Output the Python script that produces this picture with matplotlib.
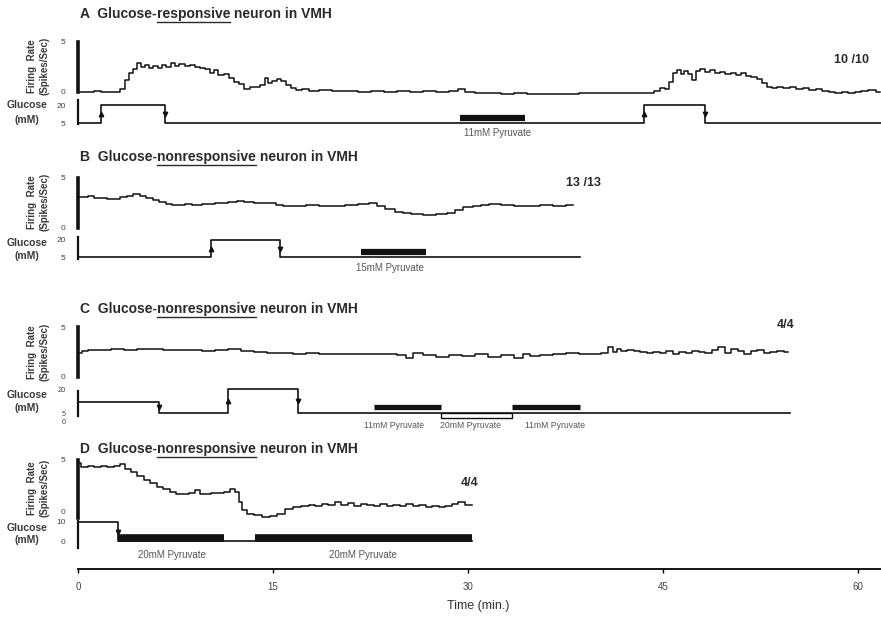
"""Firing rate of VMH neurons vs glucose / pyruvate, four stacked recordings (A-D)."""
import matplotlib
matplotlib.use("Agg")
import matplotlib.pyplot as plt
from matplotlib.lines import Line2D

plt.rcParams.update({
    "font.family": ["Liberation Sans", "DejaVu Sans"],
    "font.size": 7,
    "text.color": "#222222",
})

# ---------------- data (minutes / spikes per sec / mM) ----------------
# A: glucose-responsive neuron
a_t = [0, 0.3, 1, 1.5, 2, 2.5, 3.0, 3.5, 3.8, 4.1, 4.4, 4.7, 5.0, 5.3, 5.6, 6.0, 6.3, 6.6, 7.0,
       7.3, 7.6, 8.0, 8.4, 8.8, 9.2, 9.6, 10.0, 10.3, 10.6, 11.0, 11.4, 11.8, 12.2, 12.6, 13.0,
       13.4, 13.8, 14.2, 14.5, 14.8, 15.1, 15.5, 15.8, 16.2, 16.6, 17.0, 17.5, 18, 19, 20, 21,
       22, 23, 24, 25, 26, 27, 28, 29, 29.5, 30, 31, 32, 33, 34, 35, 36, 37, 38, 39, 40, 41,
       42, 43, 44, 44.6, 45.0, 45.3, 45.6, 45.9, 46.2, 46.5, 46.8, 47.1, 47.4, 47.7, 48.0,
       48.4, 48.8, 49.2, 49.6, 50.0, 50.4, 50.8, 51.2, 51.6, 52.0, 52.4, 52.8, 53.2, 53.6,
       54.0, 54.5, 55.0, 55.5, 56, 56.5, 57, 57.5, 58, 58.5, 59, 59.5, 60, 60.5, 61, 61.7]
a_rate = [0.0, 0.05, 0.0, 0.1, 0.05, 0.05, 0.05, 0.3, 1.2, 1.9, 2.3, 2.9, 2.5, 2.7, 2.4, 2.6,
          2.4, 2.7, 2.5, 2.9, 2.6, 2.8, 2.6, 2.7, 2.5, 2.4, 2.3, 1.9, 2.2, 1.7, 1.8, 1.4, 1.0,
          0.8, 0.3, 0.5, 0.5, 0.7, 1.4, 0.9, 1.1, 1.3, 1.1, 0.7, 0.4, 0.2, 0.3, 0.15, 0.2, 0.1,
          0.15, 0.05, 0.1, 0.0, 0.1, 0.05, 0.1, 0.0, 0.1, 0.3, 0.0, -0.1, -0.1, -0.15, -0.1,
          -0.15, -0.2, -0.2, -0.15, -0.1, -0.1, -0.05, -0.1, -0.05, -0.05, 0.1, 0.4, 0.3, 1.0,
          1.9, 2.2, 1.8, 2.1, 1.8, 1.2, 2.1, 2.3, 2.0, 2.2, 1.9, 2.0, 1.8, 1.9, 1.7, 1.9, 1.6,
          1.5, 1.3, 0.9, 0.5, 0.4, 0.5, 0.4, 0.5, 0.3, 0.4, 0.2, 0.3, 0.1, 0.0, -0.1, 0.0,
          -0.1, 0.0, 0.1, 0.2, 0.0]
a_glc_t = [0, 1.8, 6.7, 43.5, 48.2, 61.8]
a_glc = [5, 20, 5, 20, 5, 5]
a_pyr = [(29.4, 34.4)]
a_pyr_lbl = ["11mM Pyruvate"]
a_pyr_lbl_t = [32.3]

# B: glucose-nonresponsive neuron
b_t = [0.1, 0.5, 1, 1.5, 2, 2.5, 3, 3.5, 4, 4.5, 5, 5.5, 6, 6.5, 7, 7.5, 8, 8.5, 9, 10, 11, 12,
       12.5, 13, 14, 15, 15.5, 16, 17, 18, 19, 20, 21, 22, 22.7, 23.3, 24, 24.7, 25.3, 26, 27,
       28, 28.7, 29.3, 30, 30.7, 31.3, 32, 33, 34, 35, 36, 37, 38.1]
b_rate = [3.1, 3.1, 3.2, 3.0, 3.0, 2.9, 2.85, 3.05, 3.2, 3.4, 3.2, 2.95, 2.75, 2.55, 2.35,
          2.25, 2.25, 2.35, 2.25, 2.35, 2.45, 2.55, 2.65, 2.55, 2.45, 2.45, 2.25, 2.15, 2.15,
          2.25, 2.15, 2.15, 2.25, 2.35, 2.45, 2.15, 1.85, 1.55, 1.45, 1.35, 1.25, 1.35, 1.45,
          1.75, 2.05, 2.15, 2.25, 2.35, 2.25, 2.15, 2.15, 2.25, 2.15, 2.25]
b_glc_t = [0, 10.2, 15.5, 38.6]
b_glc = [5, 20, 5, 5]
b_pyr = [(21.8, 26.8)]
b_pyr_lbl = ["15mM Pyruvate"]
b_pyr_lbl_t = [24.0]

# C: glucose-nonresponsive neuron, two pyruvate doses
c_t = [0.1, 0.5, 1, 2, 3, 4, 5, 6, 7, 8, 9, 10, 11, 12, 13, 14, 15, 16, 17, 18, 19, 20, 21,
       22, 23, 24, 25, 25.5, 26, 27, 28, 29, 30, 31, 32, 33, 34, 34.5, 35, 36, 37, 38, 39, 40,
       40.5, 41, 41.3, 41.6, 42, 42.5, 43, 43.5, 44, 44.5, 45, 45.5, 46, 46.5, 47, 47.5, 48,
       48.5, 49, 49.5, 50, 50.5, 51, 51.5, 52, 52.5, 53, 53.5, 54, 54.6]
c_rate = [2.35, 2.55, 2.65, 2.65, 2.75, 2.65, 2.75, 2.75, 2.65, 2.65, 2.65, 2.55, 2.65, 2.75,
          2.55, 2.45, 2.35, 2.35, 2.25, 2.35, 2.25, 2.25, 2.25, 2.25, 2.25, 2.25, 2.15, 1.85,
          2.35, 2.15, 1.95, 2.15, 2.05, 2.25, 1.95, 2.15, 1.85, 2.25, 2.05, 2.15, 2.25, 2.35,
          2.25, 2.25, 2.35, 2.95, 2.45, 2.75, 2.55, 2.65, 2.55, 2.45, 2.35, 2.45, 2.35, 2.55,
          2.25, 2.45, 2.35, 2.55, 2.45, 2.35, 2.65, 2.95, 2.35, 2.75, 2.55, 2.25, 2.55, 2.65,
          2.35, 2.45, 2.55, 2.45]
c_glc_t = [0, 6.2, 11.5, 16.9, 54.8]
c_glc = [12, 5, 20, 5, 5]
c_pyr = [(22.8, 27.9), (27.9, 33.4), (33.4, 38.6)]
c_pyr_lbl = ["11mM Pyruvate", "20mM Pyruvate", "11mM Pyruvate"]
c_pyr_lbl_t = [24.3, 30.2, 36.7]
c_pyr_open = [False, True, False]

# D: glucose-nonresponsive neuron, glucose removed
d_t = [0, 0.5, 1, 1.5, 2, 2.5, 3, 3.4, 3.8, 4.3, 4.8, 5.3, 5.8, 6.3, 6.8, 7.3, 7.8, 8.3, 8.8,
       9.2, 9.6, 10, 10.5, 11, 11.5, 11.9, 12.2, 12.5, 12.8, 13.2, 13.8, 14.5, 15, 15.6, 16.2,
       16.8, 17.5, 18, 18.5, 19, 19.5, 20, 20.5, 21, 21.5, 22, 22.5, 23, 23.5, 24, 24.5, 25,
       25.5, 26, 26.5, 27, 27.5, 28, 28.5, 29, 29.5, 30, 30.3]
d_rate = [4.7, 4.3, 4.4, 4.3, 4.4, 4.3, 4.4, 4.6, 4.1, 3.85, 3.45, 3.1, 2.8, 2.4, 2.2, 1.9,
          1.7, 1.7, 1.8, 2.1, 1.7, 1.7, 1.8, 1.8, 1.9, 2.2, 1.9, 0.95, 0.2, -0.2, -0.3, -0.5,
          -0.4, -0.2, 0.3, 0.5, 0.6, 0.65, 0.6, 0.75, 0.65, 0.95, 0.65, 0.85, 0.55, 0.75, 0.65,
          0.55, 0.75, 0.55, 0.65, 0.55, 0.75, 0.55, 0.65, 0.45, 0.55, 0.45, 0.55, 0.75, 0.95,
          0.65, 0.65]
d_glc_t = [0, 3.1, 30.3]
d_glc = [10, 0, 0]
d_pyr = [(3.1, 11.2), (13.6, 30.3)]
d_pyr_lbl = ["20mM Pyruvate", "20mM Pyruvate"]
d_pyr_lbl_t = [7.2, 21.9]

time_ticks = [0, 15, 30, 45, 60]

# ---------------- layout (pixel geometry of the 881x617 page) ----------------
W, H = 881, 617
X0 = 78.0
PXMIN = 13.0
TMAX = (W - X0) / PXMIN
INK = "#111111"
GREY = "#3a3a3a"

fig = plt.figure(figsize=(W / 100, H / 100), dpi=100)


def fx(x):
    return x / W


def fy(y):
    return 1 - y / H


def px_axes(top, bot, ref, ticks, ticklabels, spine_lw, tick_fs=6, spine_rows=None):
    (r1, v1), (r2, v2) = ref
    k = (v1 - v2) / (r2 - r1)
    ax = fig.add_axes([fx(X0), fy(bot), 1 - fx(X0), (bot - top) / H])
    ax.set_xlim(0, TMAX)
    ax.set_ylim(v2 - (bot - r2) * k, v1 + (r1 - top) * k)
    for s in ("top", "right", "bottom"):
        ax.spines[s].set_visible(False)
    ax.spines["left"].set_linewidth(spine_lw)
    ax.spines["left"].set_color(INK)
    if spine_rows:
        s_top, s_bot = spine_rows
        ax.spines["left"].set_bounds(v2 - (s_bot - r2) * k, v1 + (r1 - s_top) * k)
    ax.set_xticks([])
    ax.set_yticks(ticks)
    ax.set_yticklabels(ticklabels, fontsize=tick_fs, color="#444444")
    ax.tick_params(axis="y", length=0, pad=9)
    ax.patch.set_alpha(0)
    return ax


def title(x, y, letter, pre, under, post):
    r = fig.canvas.get_renderer()
    kw = dict(fontsize=10, fontweight="bold", va="center", ha="left", color="#2a2a2a")
    t = fig.text(fx(x), fy(y), letter + "  " + pre, **kw)
    bb = t.get_window_extent(r)
    u = fig.text(bb.x1 / W, fy(y), under, **kw)
    ub = u.get_window_extent(r)
    fig.text(ub.x1 / W, fy(y), post, **kw)
    fig.add_artist(Line2D([ub.x0 / W, ub.x1 / W], [(ub.y0 - 0.5) / H] * 2,
                          transform=fig.transFigure, color="#2a2a2a", lw=1.0))


def ylabels(ymid_fr, y_glc, y_mm):
    kw = dict(rotation=90, ha="center", va="center", fontsize=7, fontweight="bold", color=GREY)
    fig.text(fx(32), fy(ymid_fr), "Firing  Rate", **kw)
    fig.text(fx(44), fy(ymid_fr), "(Spikes/Sec)", **kw)
    kw = dict(ha="center", va="center", fontsize=7.5, fontweight="bold", color=GREY)
    fig.text(fx(27), fy(y_glc), "Glucose", **kw)
    fig.text(fx(27), fy(y_mm), "(mM)", **kw)


def glucose_trace(ax, ts, vs):
    ax.plot(ts, vs, drawstyle="steps-post", color=INK, lw=1.2, clip_on=False)
    for i in range(1, len(ts) - 1):
        if vs[i] == vs[i - 1]:
            continue
        up = vs[i] > vs[i - 1]
        ax.plot(ts[i], (vs[i] + vs[i - 1]) / 2, marker="^" if up else "v", ms=3.2,
                color=INK, clip_on=False)


def pyruvate(ax, spans, labels, label_t, ybar, ylab_px, open_flags=None, lw=4.5,
             open_box=None, fs=7):
    for i, (t0, t1) in enumerate(spans):
        if open_flags and open_flags[i]:
            top, bot = open_box
            ax.fill([t0, t1, t1, t0], [top, top, bot, bot], facecolor="white",
                    edgecolor=INK, lw=1.0, clip_on=False, zorder=3)
        else:
            ax.plot([t0, t1], [ybar, ybar], color=INK, lw=lw,
                    solid_capstyle="butt", clip_on=False, zorder=3)
    for lbl, tl in zip(labels, label_t):
        fig.text(fx(X0 + tl * PXMIN), fy(ylab_px), lbl, ha="center", va="center",
                 fontsize=fs, color="#555555")


def rate_trace(ax, ts, vs):
    ax.plot(ts, vs, drawstyle="steps-mid", color=INK, lw=1.1, clip_on=False)


def count(x, y, s):
    fig.text(fx(x), fy(y), s, ha="center", va="center", fontsize=9, fontweight="bold",
             color="#2a2a2a")


# ---- A ----
title(80, 14, "A", "Glucose-", "responsive", " neuron in VMH")
ax = px_axes(42, 92, ((41, 5), (92, 0)), [0, 5], ["0", "5"], 2.6)
rate_trace(ax, a_t, a_rate)
ax = px_axes(100, 124, ((105, 20), (123, 5)), [5, 20], ["5", "20"], 1.6)
glucose_trace(ax, a_glc_t, a_glc)
pyruvate(ax, a_pyr, a_pyr_lbl, a_pyr_lbl_t, 9.5, 133)
ylabels(66, 105, 120)
count(851, 60, "10 /10")

# ---- B ----
title(80, 157, "B", "Glucose-", "nonresponsive", " neuron in VMH")
ax = px_axes(178, 228, ((176, 5), (228, 0)), [0, 5], ["0", "5"], 2.6)
rate_trace(ax, b_t, b_rate)
ax = px_axes(237, 259, ((240, 20), (257, 5)), [5, 20], ["5", "20"], 1.6)
glucose_trace(ax, b_glc_t, b_glc)
pyruvate(ax, b_pyr, b_pyr_lbl, b_pyr_lbl_t, 9.0, 268)
ylabels(202, 243, 256)
count(583, 183, "13 /13")

# ---- C ----
title(80, 309, "C", "Glucose-", "nonresponsive", " neuron in VMH")
ax = px_axes(327, 377, ((325, 5), (376, 0)), [0, 5], ["0", "5"], 2.6)
rate_trace(ax, c_t, c_rate)
ax = px_axes(386, 424, ((389, 20), (421, 0)), [0, 5, 20], ["0", "5", "20"], 1.6,
             tick_fs=5.3, spine_rows=(391, 416))
glucose_trace(ax, c_glc_t, c_glc)
pyruvate(ax, c_pyr, c_pyr_lbl, c_pyr_lbl_t, 8.7, 425, c_pyr_open, lw=3.8,
         open_box=(5, 1.8), fs=6.2)
ylabels(352, 395, 408)
count(786, 325, "4/4")

# ---- D ----
title(80, 449, "D", "Glucose-", "nonresponsive", " neuron in VMH")
ax = px_axes(460, 518, ((460, 5), (512, 0)), [0, 5], ["0", "5"], 2.6)
rate_trace(ax, d_t, d_rate)
ax = px_axes(521, 548, ((522, 10), (541, 0)), [0, 10], ["0", "10"], 1.6)
glucose_trace(ax, d_glc_t, d_glc)
pyruvate(ax, d_pyr, d_pyr_lbl, d_pyr_lbl_t, 1.8, 555, lw=5.5)
ylabels(488, 528, 540)
count(470, 483, "4/4")

# ---- shared time axis ----
tax = fig.add_axes([fx(X0), fy(569), 1 - fx(X0), 1 / H])
tax.set_xlim(0, TMAX)
tax.set_yticks([])
for s in ("top", "right", "left"):
    tax.spines[s].set_visible(False)
tax.spines["bottom"].set_linewidth(1.3)
tax.set_xticks(time_ticks)
tax.set_xticklabels([str(t) for t in time_ticks], fontsize=7, color="#444444")
tax.tick_params(axis="x", length=3, width=1, pad=6)
tax.patch.set_alpha(0)
fig.text(fx(478), fy(606), "Time (min.)", ha="center", va="center", fontsize=9,
         color="#333333")

fig.savefig("out.png", dpi=100)
